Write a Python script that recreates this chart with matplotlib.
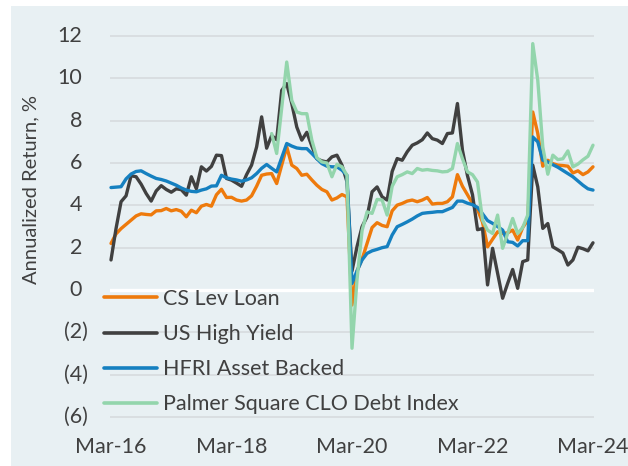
import numpy as np
import matplotlib
matplotlib.use("Agg")
import matplotlib.pyplot as plt
from matplotlib.patches import Rectangle

# ---------------- data (monthly, Mar-16 .. Mar-24) ----------------
tick_labels = ["Mar-16", "Mar-18", "Mar-20", "Mar-22", "Mar-24"]
tick_months = [0, 24, 48, 72, 96]

series_names = ["CS Lev Loan", "US High Yield", "HFRI Asset Backed",
                "Palmer Square CLO Debt Index"]

lev_loan = [2.2, 2.65, 2.9, 3.1, 3.3, 3.5, 3.6, 3.57, 3.55, 3.74,
            3.75, 3.85, 3.74, 3.8, 3.72, 3.46, 3.77, 3.65, 3.96, 4.04,
            3.96, 4.5, 4.76, 4.37, 4.38, 4.25, 4.2, 4.25, 4.45, 4.9,
            5.42, 5.48, 5.5, 5.03, 5.9, 6.76, 5.9, 5.74, 5.42, 5.47,
            5.2, 4.95, 4.75, 4.64, 4.25, 4.35, 4.51, 4.4, -0.71, 0.9,
            1.45, 2.2, 2.95, 3.18, 3.05, 2.99, 3.74, 4.01, 4.09, 4.2,
            4.25, 4.17, 4.25, 4.37, 4.06, 4.09, 4.09, 4.17, 4.4, 5.45,
            4.9, 4.5, 4.09, 3.8, 3.2, 2.04, 2.4, 2.75, 2.67, 2.7,
            2.83, 2.36, 2.95, 3.3, 8.41, 7.4, 5.85, 6.13, 5.97, 5.9,
            5.88, 5.85, 5.53, 5.63, 5.45, 5.58, 5.82]

high_yield = [1.42, 2.9, 4.17, 4.45, 5.4, 5.35, 5.0, 4.56, 4.2, 4.68,
              4.93, 4.75, 4.62, 4.78, 4.74, 4.48, 5.35, 4.78, 5.82, 5.62,
              5.84, 6.37, 6.35, 5.27, 5.19, 5.05, 4.9, 5.45, 5.9, 6.76,
              8.18, 6.7, 7.3, 7.1, 9.43, 9.75, 8.81, 7.7, 7.08, 7.45,
              6.8, 6.2, 6.1, 6.05, 6.29, 6.37, 5.9, 5.11, 0.9, 2.05,
              2.99, 3.46, 4.64, 4.87, 4.4, 4.25, 5.6, 6.21, 6.13, 6.53,
              6.84, 6.95, 7.1, 7.42, 7.15, 7.08, 6.92, 7.39, 7.42, 8.81,
              6.6, 5.4, 4.5, 2.85, 2.9, 0.24, 1.97, 0.79, -0.39, 0.31,
              0.97, 0.08, 1.34, 1.42, 5.9, 4.87, 2.91, 3.14, 2.04, 1.9,
              1.75, 1.18, 1.42, 2.02, 1.95, 1.85, 2.23]

hfri_abs = [4.84, 4.86, 4.88, 5.25, 5.48, 5.6, 5.63, 5.5, 5.38, 5.27,
            5.22, 5.15, 5.05, 4.95, 4.82, 4.72, 4.66, 4.64, 4.72, 4.78,
            4.91, 4.92, 5.42, 5.3, 5.24, 5.2, 5.14, 5.2, 5.3, 5.5,
            5.75, 5.93, 5.75, 5.58, 6.25, 6.92, 6.8, 6.71, 6.68, 6.68,
            6.45, 6.2, 5.97, 5.85, 5.82, 5.82, 5.66, 5.42, 0.31, 0.9,
            1.42, 1.73, 1.85, 1.92, 2.0, 2.05, 2.6, 2.99, 3.1, 3.22,
            3.35, 3.5, 3.62, 3.65, 3.67, 3.7, 3.7, 3.8, 3.9, 4.2,
            4.2, 4.1, 4.03, 3.9, 3.6, 3.28, 3.15, 3.0, 2.83, 2.28,
            2.25, 2.08, 2.33, 2.33, 7.23, 7.0, 6.13, 6.05, 5.92, 5.8,
            5.65, 5.5, 5.35, 5.15, 4.95, 4.78, 4.72]

clo_start = 32  # Palmer Square index begins Nov-18
clo_debt = [7.39, 6.45, 8.6, 10.77, 8.96, 8.41, 8.33, 8.33,
            7.08, 6.25, 6.05, 6.0, 5.35, 5.94, 5.82, 5.42, -2.75, 0.5,
            2.8, 3.69, 3.62, 4.28, 4.25, 3.54, 4.9, 5.35, 5.45, 5.58,
            5.5, 5.74, 5.66, 5.69, 5.65, 5.63, 5.58, 5.6, 5.74, 6.92,
            6.2, 5.58, 5.45, 5.1, 3.3, 2.83, 2.67, 3.54, 1.97, 2.67,
            3.38, 2.67, 2.95, 3.54, 11.64, 9.91, 6.76, 5.47, 6.37, 6.16,
            6.2, 6.57, 5.82, 5.95, 6.15, 6.32, 6.84]

colors = ["#EE7A0C", "#404040", "#1580C0", "#93D5AC"]

# ---------------- figure ----------------
W, H = 628, 466
fig = plt.figure(figsize=(W / 100, H / 100), dpi=100)
fig.patch.set_facecolor("white")
fig.patches.append(Rectangle((11 / W, 0), 1, (H - 6) / H, transform=fig.transFigure,
                             facecolor="#E8F0F3", edgecolor="none", zorder=-10))

font = ["Lato", "DejaVu Sans"]
tcol = "#404040"
fs = 15.5

ymin, ymax = -6.3, 12.3
px_per_unit = 21.17
ax_top = 36 - (ymax - 12) * px_per_unit
ax_bot = 417 + (-6 - ymin) * px_per_unit
ax_left, ax_right = 110, 594
ax = fig.add_axes([ax_left / W, (H - ax_bot) / H, (ax_right - ax_left) / W,
                   (ax_bot - ax_top) / H])
ax.set_facecolor("none")
ax.set_xlim(-0.2, 96.2)
ax.set_ylim(ymin, ymax)
for s in ax.spines.values():
    s.set_visible(False)

grid_vals = [-6, -4, -2, 2, 4, 6, 8, 10, 12]
for g in grid_vals:
    ax.axhline(g, color="#D8DDE0", lw=1.3, zorder=1)
ax.axhline(0, color="white", lw=2.4, zorder=1)

months = np.arange(97)
clo_full = np.full(97, np.nan)
clo_full[clo_start:clo_start + len(clo_debt)] = clo_debt
data = [lev_loan, high_yield, hfri_abs, clo_full]
for name, vals, c in zip(series_names, data, colors):
    ax.plot(months, vals, color=c, lw=2.4, label=name, zorder=3,
            solid_joinstyle="round", solid_capstyle="round", clip_on=False)

# y tick labels (Excel style: parentheses hang to the right)
ax.set_yticks([])
ytrans = ax.get_yaxis_transform()
for v in [-6, -4, -2, 0, 2, 4, 6, 8, 10, 12]:
    if v < 0:
        lab, xr = f"({-v})", 88
    else:
        lab, xr = f"{v}", 82
    ax.text((xr - ax_left) / (ax_right - ax_left), v, lab, transform=ytrans,
            ha="right", va="center", fontsize=fs, color=tcol, family=font)

ax.set_xticks(tick_months)
ax.set_xticklabels(tick_labels, fontsize=fs, color=tcol, family=font)
ax.tick_params(axis="x", length=0, pad=10)

fig.text(31 / W, 1 - 190 / H, "Annualized Return, %", rotation=90, ha="center",
         va="center", fontsize=14.5, color=tcol, family=font)

leg = ax.legend(loc="upper left", bbox_to_anchor=(104 / W, 1 - 289 / H),
                bbox_transform=fig.transFigure, frameon=False, borderpad=0,
                borderaxespad=0, handlelength=2.45, handletextpad=0.3,
                labelspacing=0.7, prop={"family": font, "size": fs})
for t in leg.get_texts():
    t.set_color(tcol)
for l in leg.get_lines():
    l.set_linewidth(2.6)

fig.savefig("out.png", dpi=100, facecolor=fig.get_facecolor())
